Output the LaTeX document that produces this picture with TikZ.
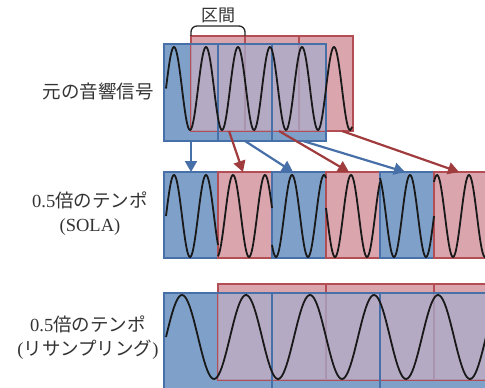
\documentclass[tikz,border=0pt]{standalone}
\usepackage{fontspec}
\setmainfont{Liberation Serif}
\newfontfamily\jp{Noto Sans CJK JP}
\usetikzlibrary{arrows.meta}
\definecolor{bfill}{RGB}{126,160,201}
\definecolor{rfill}{RGB}{218,165,173}
\definecolor{ovl}{RGB}{168,172,204}
\definecolor{bline}{RGB}{72,112,168}
\definecolor{rline}{RGB}{178,78,84}
\definecolor{rarr}{RGB}{160,60,62}
\begin{document}
\begin{tikzpicture}[x=1pt, y=-1pt,
  bw/.style={fill=bfill, draw=bline, line width=1.2pt, minimum width=54pt, inner sep=0pt, outer sep=0pt},
  rw/.style={fill=rfill, draw=rline, line width=1.2pt, minimum width=54pt, inner sep=0pt, outer sep=0pt},
  wave/.style={line width=1.8pt, black!90},
  barrow/.style={line width=2.2pt, bline, -{Triangle[length=11pt,width=12pt]}},
  rarrow/.style={line width=2.2pt, rarr, -{Triangle[length=11pt,width=12pt]}},
  lbl/.style={font=\fontsize{18.5}{24}\selectfont, align=center, text=black!80}]
\useasboundingbox (0,0) rectangle (485,388);
\clip (0,0) rectangle (485,388);
% original signal
\node[bw, minimum height=97pt] (b1) at (191,92.5) {};
\node[bw, minimum height=97pt] (b2) at (245,92.5) {};
\node[bw, minimum height=97pt] (b3) at (299,92.5) {};
\node[rw, minimum height=95pt] (r1) at (218,83.5) {};
\node[rw, minimum height=95pt] (r2) at (272,83.5) {};
\node[rw, minimum height=95pt] (r3) at (326,83.5) {};
\fill[ovl, fill opacity=0.75] (r1.south west) rectangle (b3.north east);
\foreach \n in {b1,b2,b3} \draw[bline, line width=1.2pt] (\n.south west) rectangle (\n.north east);
\draw[wave] plot[domain=166:352, samples=220] (\x,{88.5-41.5*sin(11.25*(\x-166))});
% SOLA
\node[bw, minimum height=86pt] (s1) at (191,215) {};
\node[rw, minimum height=86pt] (s2) at (245,215) {};
\node[bw, minimum height=86pt] (s3) at (299,215) {};
\node[rw, minimum height=86pt] (s4) at (353,215) {};
\node[bw, minimum height=86pt] (s5) at (407,215) {};
\node[rw, minimum height=86pt] (s6) at (461,215) {};
\foreach \k in {0,...,5} {
  \pgfmathsetmacro{\xa}{max(166,164+54*\k)}
  \pgfmathsetmacro{\xb}{218+54*\k}
  \draw[wave] plot[domain=\xa:\xb, samples=70] (\x,{216-41*sin(11.25*(\x-27*\k-166))});
}
% resampling
\node[bw, minimum width=108pt, minimum height=104pt] (p1) at (218,345) {};
\node[bw, minimum width=108pt, minimum height=104pt] (p2) at (326,345) {};
\node[bw, minimum width=108pt, minimum height=104pt] (p3) at (434,345) {};
\node[rw, minimum width=108pt, minimum height=96pt] (q1) at (272,332) {};
\node[rw, minimum width=108pt, minimum height=96pt] (q2) at (380,332) {};
\node[rw, minimum width=108pt, minimum height=96pt] (q3) at (488,332) {};
\fill[ovl, fill opacity=0.75] (q1.south west) rectangle (p3.north east);
\foreach \n in {p1,p2,p3} \draw[bline, line width=1.2pt] (\n.south west) rectangle (\n.north east);
\draw[wave] plot[domain=166:487, samples=220] (\x,{337-42*sin(5.625*(\x-166))});
% window copies
\draw[barrow] (b1.south) -- (s1.north);
\draw[rarrow] ([xshift=11pt]r1.south) -- ([xshift=-2pt]s2.north);
\draw[barrow] (b2.south) -- ([xshift=-6pt]s3.north);
\draw[rarrow] ([xshift=7pt]r2.south) -- ([xshift=-4pt]s4.north);
\draw[barrow] ([xshift=4pt]b3.south) -- ([xshift=-2pt]s5.north);
\draw[rarrow] ([xshift=16pt]r3.south) -- ([xshift=-2pt]s6.north);
% interval bracket
\draw[line width=1.3pt, black!85, rounded corners=6pt] (r1.north west) -- ++(0,-10) -| (r1.north east);
\node[font=\fontsize{17}{20}\selectfont\jp, text=black!80] (kukan) at (218,15) {区間};
% row labels
\node[lbl] (orig) at (98,91) {\jp 元の音響信号};
\node[lbl] (sola) at (90,213.5) {0.5{\jp 倍のテンポ}\\(SOLA)};
\node[lbl] (resamp) at (88,337.5) {0.5{\jp 倍のテンポ}\\({\jp リサンプリング})};
\end{tikzpicture}
\end{document}
